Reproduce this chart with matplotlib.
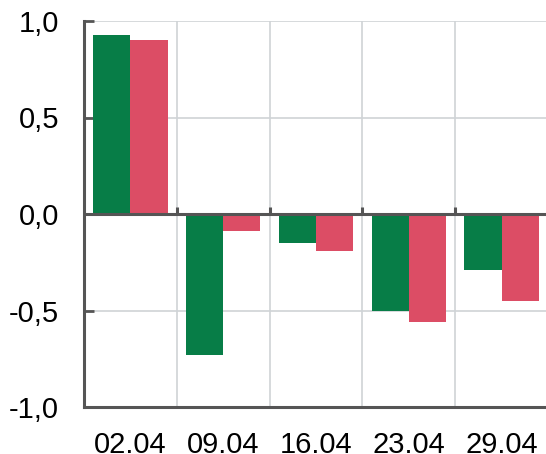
import matplotlib.pyplot as plt
import numpy as np
from matplotlib.ticker import FuncFormatter

# data
dates = ["02.04", "09.04", "16.04", "23.04", "29.04"]
green_vals = [0.93, -0.73, -0.15, -0.50, -0.29]
red_vals = [0.90, -0.09, -0.19, -0.56, -0.45]

GREEN = "#077d47"
RED = "#dc4d65"
DARK = "#555555"
GRID = "#cfd3d6"

plt.rcParams["font.family"] = ["Liberation Sans", "DejaVu Sans"]

fig = plt.figure(figsize=(5.46, 4.54), dpi=100)
ax = fig.add_axes([84 / 546, 1 - 407 / 454, 464 / 546, 386 / 454])

x = np.arange(len(dates))
width = 0.4
ax.bar(x - width / 2, green_vals, width, color=GREEN, zorder=3)
ax.bar(x + width / 2, red_vals, width, color=RED, zorder=3)

ax.set_xlim(-0.5, len(dates) - 0.5)
ax.set_ylim(-1.0, 1.0)

# grid: horizontal at ticks, vertical at category boundaries
for y in [-0.5, 0.5, 1.0]:
    ax.axhline(y, color=GRID, lw=1.2, zorder=1)
for b in x[1:] - 0.5:
    ax.axvline(b, color=GRID, lw=1.2, zorder=1)

# zero line with small upward ticks at the boundaries
ax.axhline(0, color=DARK, lw=2.2, zorder=4)
ax.vlines(x[1:] - 0.5, 0, 0.035, color=DARK, lw=2.2, zorder=4)

ax.set_xticks(x)
ax.set_xticklabels(dates)
ax.set_yticks([-1.0, -0.5, 0.0, 0.5, 1.0])
ax.yaxis.set_major_formatter(FuncFormatter(lambda v, pos: f"{v:.1f}".replace(".", ",")))

ax.tick_params(axis="x", length=0, pad=17, labelsize=21)
ax.tick_params(axis="y", direction="in", length=7, width=2, color=DARK,
               pad=18, labelsize=21)

for side in ["top", "right"]:
    ax.spines[side].set_visible(False)
for side in ["left", "bottom"]:
    ax.spines[side].set_color(DARK)
    ax.spines[side].set_linewidth(2.2)

fig.savefig("out.png", dpi=100)
